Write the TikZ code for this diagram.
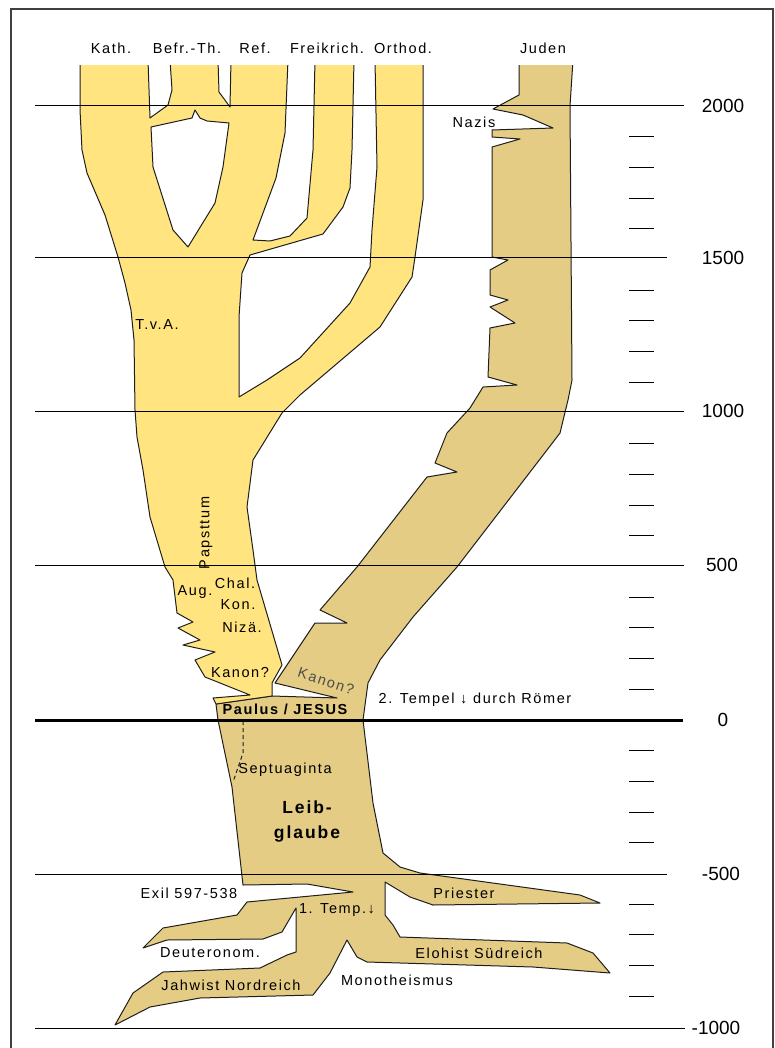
\documentclass[tikz,border=0pt]{standalone}
\usepackage{fontspec}
\setmainfont{Liberation Sans}[LetterSpace=11]
\newfontfamily\yrfont{Liberation Sans}
\definecolor{christ}{RGB}{255,228,128}
\definecolor{juda}{RGB}{228,204,132}
\definecolor{rahmen}{RGB}{64,64,64}
\definecolor{kontur}{RGB}{30,30,30}

\begin{document}
\begin{tikzpicture}[x=1pt,y=-1pt,
  lbl/.style={inner sep=0pt,font=\fontsize{14.5}{16}\selectfont},
  bold lbl/.style={inner sep=0pt,font=\fontsize{14.5}{16}\selectfont\bfseries},
  yr/.style={inner sep=0pt,font=\yrfont\fontsize{19}{21}\selectfont},
  stem/.style={draw=kontur,line width=1pt,line join=round}]
\useasboundingbox (0,0) rectangle (775,1048);
\draw[rahmen, line width=1.5pt] (11,1048) -- (11,9) -- (773,9) -- (773,1048);
\begin{scope}
\clip (0,66) rectangle (775,1048);
\filldraw[stem, fill=juda] (519,60) -- (519,95) -- (493,109) -- (523,115) -- (553,128) -- (492,130) -- (492,137) -- (520,139) -- (492,147) -- (492,257) -- (508,260) -- (490,270) -- (490,295) -- (508,300) -- (490,307) -- (515,323) -- (490,328) -- (488,377) -- (517,385) -- (483,387) -- (470,408) -- (447,433) -- (435,463) -- (457,472) -- (427,477) -- (357,567) -- (320,610) -- (347,623) -- (315,623) -- (275,683) -- (337,698) -- (272,696) -- (216,704) -- (218,720) -- (232,787) -- (243,885) -- (307,884) -- (353,892) -- (247,902) -- (237,915) -- (163,928) -- (143,948) -- (167,940) -- (263,939) -- (282,932) -- (296,908) -- (296,952) -- (287,955) -- (260,968) -- (163,972) -- (133,993) -- (115,1025) -- (150,1007) -- (200,998) -- (313,995) -- (330,973) -- (347,940) -- (357,957) -- (367,962) -- (533,967) -- (610,973) -- (593,953) -- (567,943) -- (400,937) -- (393,925) -- (385,915) -- (385,882) -- (410,897) -- (433,905) -- (600,903) -- (580,895) -- (420,873) -- (400,867) -- (383,853) -- (373,803) -- (363,720) -- (368,683) -- (380,660) -- (413,617) -- (457,567) -- (547,450) -- (560,433) -- (568,400) -- (572,380) -- (570,106) -- (573,60) -- cycle;
\filldraw[stem, fill=christ] (80,60) -- (80,110) -- (82,150) -- (87,173) -- (105,215) -- (118,257) -- (125,283) -- (131,310) -- (134,340) -- (135,410) -- (137,437) -- (143,470) -- (150,517) -- (165,567) -- (173,580) -- (177,613) -- (193,622) -- (178,628) -- (200,640) -- (183,645) -- (215,652) -- (195,660) -- (205,677) -- (250,695) -- (213,698) -- (216,704) -- (272,696) -- (272,683) -- (282,665) -- (257,580) -- (253,550) -- (247,507) -- (253,460) -- (282,413) -- (300,395) -- (380,327) -- (412,277) -- (415,257) -- (423,200) -- (423,60) -- (375,60) -- (377,167) -- (372,230) -- (370,267) -- (350,303) -- (300,358) -- (267,380) -- (239,397) -- (239,317) -- (242,273) -- (250,255) -- (323,234) -- (343,207) -- (350,188) -- (352,150) -- (354,60) -- (315,60) -- (313,150) -- (307,218) -- (290,236) -- (270,241) -- (253,240) -- (276,178) -- (285,133) -- (288,60) -- (231,60) -- (230,107) -- (219,92) -- (218,60) -- (170,60) -- (172,90) -- (168,105) -- (150,118) -- (148,60) -- cycle;
\end{scope}
\filldraw[stem, fill=white] (151,127) -- (192,118) -- (195,110) -- (200,118) -- (207,121) -- (229,123) -- (223,167) -- (215,203) -- (188,247) -- (173,230) -- (153,167) -- cycle;
\draw[kontur, line width=1pt, dash pattern=on 4pt off 3pt] (243,721) -- (243,753) -- (233,782);
\foreach \y/\e in {106/684, 258/667, 411/684, 565/684, 874/667, 1028/685}
  \draw[black, line width=1pt] (35,\y) -- (\e,\y);
\draw[black, line width=3pt] (35,720) -- (683,720);
\foreach \t in {-900,-800,-700,-600,-400,-300,-200,-100,100,200,300,400,600,700,800,900,1100,1200,1300,1400,1600,1700,1800,1900}
  \draw[black, line width=1pt] (629,{720-0.307*\t}) -- (654,{720-0.307*\t});
\foreach \y/\t/\x in {106/2000/723, 258/1500/723, 411/1000/723, 565/500/722, 720/0/723, 874/-500/721, 1028/-1000/716}
  \node[yr] (yr\t) at (\x,\y) {\t};
\node[lbl] (hKath) at (111,48) {Kath.};
\node[lbl] (hBefr) at (187,48) {Befr.-Th.};
\node[lbl] (hRef) at (255,48) {Ref.};
\node[lbl] (hFrei) at (327,48) {Freikrich.};
\node[lbl] (hOrth) at (403,48) {Orthod.};
\node[lbl] (hJud) at (543,48) {Juden};
\node[lbl] (lNazis) at (474,122) {Nazis};
\node[lbl] (lTvA) at (157,325) {T.v.A.};
\node[lbl, rotate=90] (lPapst) at (206,533) {Papsttum};
\node[lbl] (lAug) at (195,592) {Aug.};
\node[lbl] (lChal) at (235,583) {Chal.};
\node[lbl] (lKon) at (238,605) {Kon.};
\node[lbl] (lNiza) at (242,627) {Nizä.};
\node[lbl] (lKanonA) at (240,673) {Kanon?};
\node[lbl, rotate=-18, text=black!70] (lKanonB) at (326,681) {Kanon?};
\node[bold lbl] (lPaulus) at (285,709) {Paulus / JESUS};
\node[lbl] (lTempel) at (475,700) {2. Tempel ↓ durch Römer};
\node[lbl] (lSept) at (285,770) {Septuaginta};
\node[bold lbl, font=\fontsize{17.5}{25}\selectfont\bfseries, align=center] (lLeib) at (307,822) {Leib-\\glaube};
\node[lbl] (lExil) at (189,893) {Exil 597-538};
\node[lbl] (lTemp) at (337,910) {1. Temp.↓};
\node[lbl] (lPriester) at (464,893) {Priester};
\node[lbl] (lDeut) at (210,953) {Deuteronom.};
\node[lbl] (lElohist) at (479,953) {Elohist Südreich};
\node[lbl] (lJahwist) at (231,985) {Jahwist Nordreich};
\node[lbl] (lMono) at (397,980) {Monotheismus};
\end{tikzpicture}
\end{document}
